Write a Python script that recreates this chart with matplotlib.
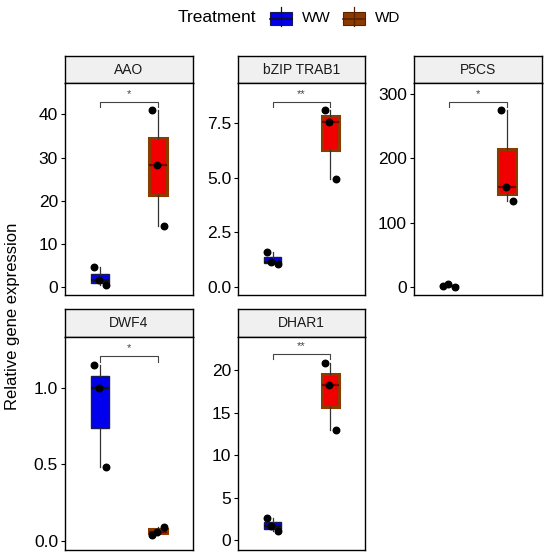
import numpy as np
import matplotlib
matplotlib.use("Agg")
import matplotlib.pyplot as plt
from matplotlib.patches import Rectangle
from matplotlib.lines import Line2D

plt.rcParams["font.family"] = ["Liberation Sans", "DejaVu Sans"]

# data (3 replicates per group)
genes = ["AAO", "bZIP TRAB1", "P5CS", "DWF4", "DHAR1"]
ww_values = [
    [4.5, 1.5, 0.5],
    [1.6, 1.15, 1.05],
    [1.5, 3.5, 0.0],
    [1.15, 1.0, 0.48],
    [2.6, 1.6, 1.0],
]
wd_values = [
    [41.0, 28.3, 14.2],
    [8.1, 7.55, 4.95],
    [275.0, 155.0, 133.0],
    [0.04, 0.06, 0.09],
    [20.8, 18.3, 12.9],
]
signif = ["*", "**", "*", "*", "**"]
bracket_y = [42.9, 8.45, 288.0, 1.207, 21.9]
y_limits = [(-1.9, 47.3), (-0.35, 9.31), (-12.9, 317.6), (-0.061, 1.333), (-1.18, 23.9)]
y_ticks = [[0, 10, 20, 30, 40], [0, 2.5, 5, 7.5], [0, 100, 200, 300], [0, 0.5, 1.0], [0, 5, 10, 15, 20]]
y_ticklabels = [["0", "10", "20", "30", "40"], ["0.0", "2.5", "5.0", "7.5"],
                ["0", "100", "200", "300"], ["0.0", "0.5", "1.0"], ["0", "5", "10", "15", "20"]]

jitter = [-0.1, -0.02, 0.1]

ww_color = "#0000EE"
ww_edge = "#1a1a50"
wd_face = "#F00000"
wd_edge = "#8B3A00"

W, H = 550, 560
fig = plt.figure(figsize=(5.5, 5.6), dpi=100)

cols = [(65, 193), (238, 365), (414, 542)]
rows = [(56, 83, 295), (309, 337, 550)]
slots = [(0, 0), (0, 1), (0, 2), (1, 0), (1, 1)]


def px_rect(x0, x1, y0, y1):
    return [x0 / W, 1 - y1 / H, (x1 - x0) / W, (y1 - y0) / H]


for i, gene in enumerate(genes):
    r, c = slots[i]
    x0, x1 = cols[c]
    s_top, s_bot, p_bot = rows[r]

    strip = fig.add_axes(px_rect(x0, x1, s_top, s_bot))
    strip.set_facecolor("#F0F0F0")
    strip.set_xticks([])
    strip.set_yticks([])
    for sp in strip.spines.values():
        sp.set_linewidth(1.0)
    strip.text(0.5, 0.5, gene, ha="center", va="center", fontsize=10, color="#1a1a1a",
               transform=strip.transAxes)

    ax = fig.add_axes(px_rect(x0, x1, s_bot, p_bot))
    for sp in ax.spines.values():
        sp.set_linewidth(1.0)

    groups = [(1, ww_values[i], ww_color, ww_edge, 1.0, "#111111"),
              (2, wd_values[i], wd_face, wd_edge, 2.2, "#7a0000")]
    for pos, vals, face, edge, lw, med in groups:
        ax.boxplot([vals], positions=[pos], widths=0.3, patch_artist=True, showfliers=False,
                   boxprops=dict(facecolor=face, edgecolor=edge, linewidth=lw),
                   medianprops=dict(color=med, linewidth=1.6),
                   whiskerprops=dict(color="#333333", linewidth=0.9),
                   capprops=dict(linewidth=0))
        ax.scatter(pos + np.array(jitter), vals, s=22, color="black", zorder=4)

    lo, hi = y_limits[i]
    tip = 0.025 * (hi - lo)
    yb = bracket_y[i]
    ax.plot([1, 1, 2, 2], [yb - tip, yb, yb, yb - tip], color="#444444", linewidth=0.8)
    ax.text(1.5, yb + 0.015 * (hi - lo), signif[i], ha="center", va="bottom",
            fontsize=8, color="#444444")

    ax.set_xlim(0.4, 2.6)
    ax.set_ylim(lo, hi)
    ax.set_xticks([])
    ax.set_yticks(y_ticks[i])
    ax.set_yticklabels(y_ticklabels[i])
    ax.tick_params(axis="y", labelsize=12.5, length=3, width=0.8, pad=2, colors="black")

fig.text(13 / W, 1 - 316 / H, "Relative gene expression", rotation=90,
         ha="center", va="center", fontsize=12)

# legend
fig.text(217 / W, 1 - 18 / H, "Treatment", ha="center", va="center", fontsize=12.5)
legend_items = [("WW", 270, ww_color, ww_edge, "#111111"), ("WD", 343, "#8B3A00", "#5a2000", "#5a2000")]
for label, lx, face, edge, med in legend_items:
    fig.add_artist(Line2D([(lx + 11) / W] * 2, [1 - 7 / H, 1 - 26 / H], color=med, linewidth=0.9))
    fig.add_artist(Rectangle((lx / W, 1 - 25 / H), 22 / W, 13 / H, facecolor=face,
                             edgecolor=edge, linewidth=0.8, transform=fig.transFigure))
    fig.add_artist(Line2D([lx / W, (lx + 22) / W], [1 - 18.5 / H] * 2, color=med, linewidth=1.2))
    fig.text((lx + 32) / W, 1 - 18 / H, label, ha="left", va="center", fontsize=11)

fig.savefig("out.png", dpi=100)
